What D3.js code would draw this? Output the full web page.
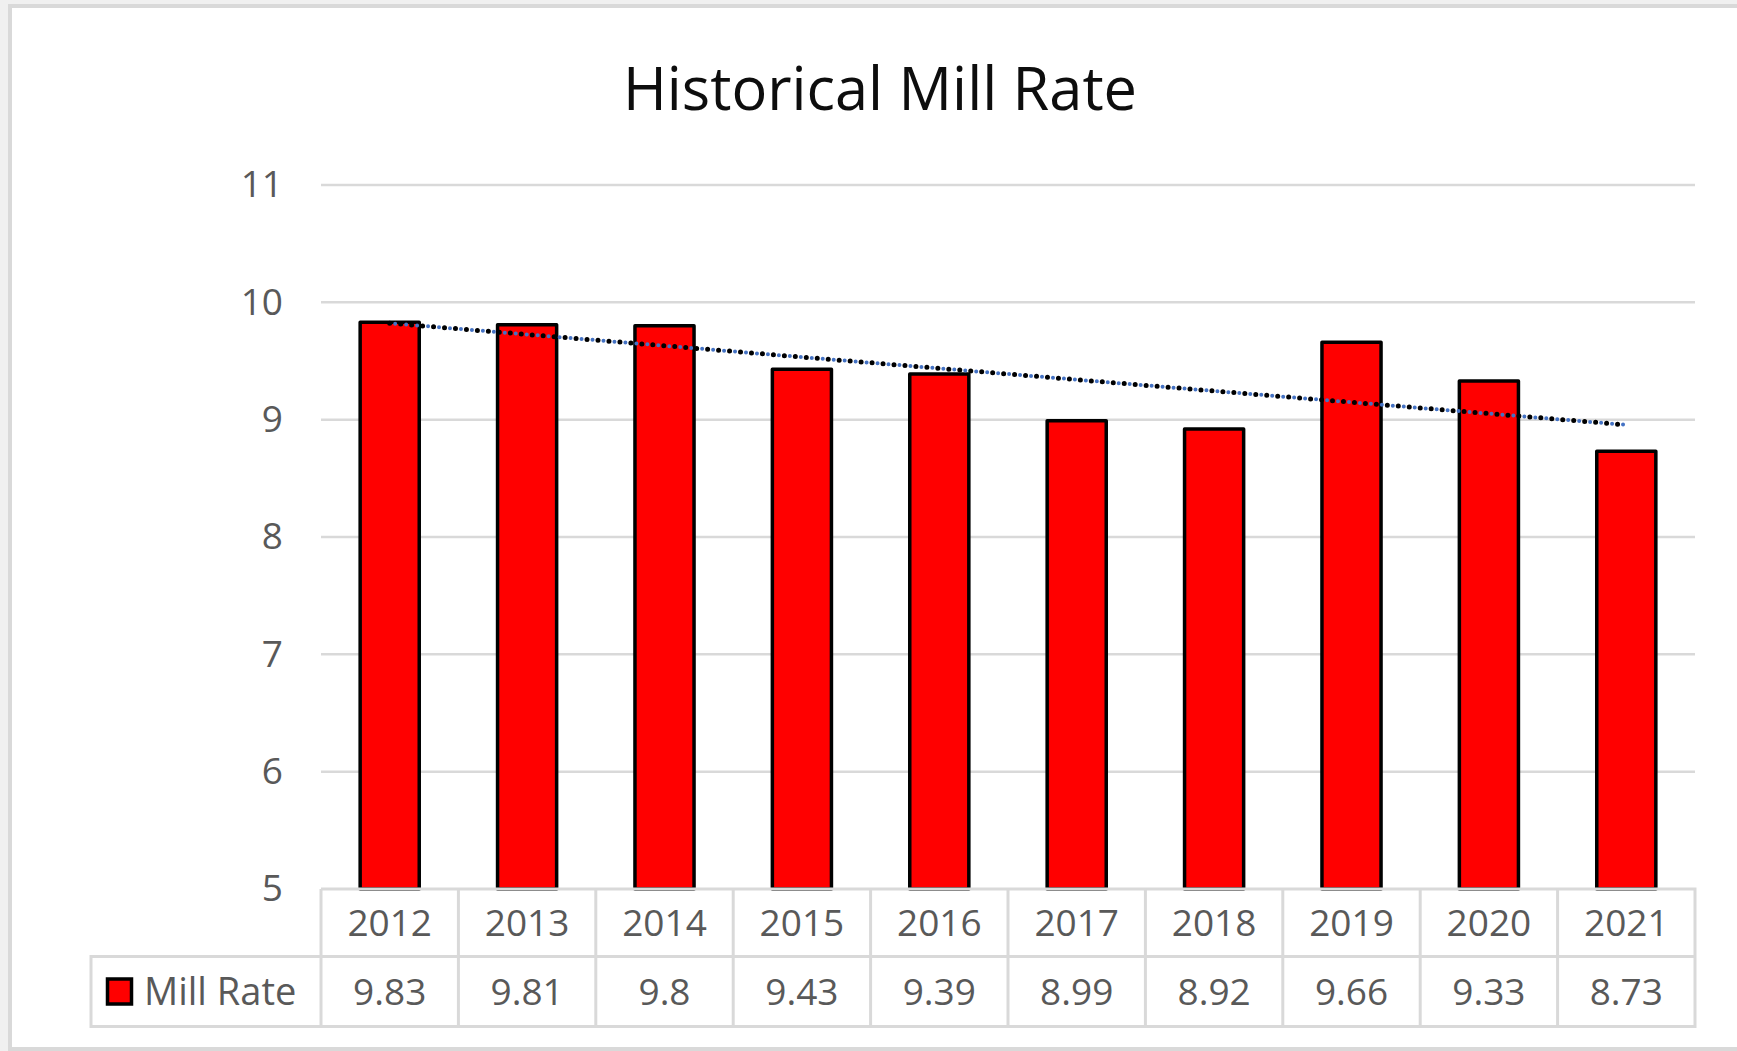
<!DOCTYPE html>
<html>
<head>
<meta charset="utf-8">
<script src="https://cdn.jsdelivr.net/npm/d3@7"></script>
<style>
    html, body { margin: 0; padding: 0; background: #f0f0f0; overflow: hidden; }
    svg { display: block; }
    text { font-family: "Open Sans", "Noto Sans", sans-serif; }
</style>
</head>
<body>
<div id="chart"></div>
<script>
const years = ['2012', '2013', '2014', '2015', '2016', '2017', '2018', '2019', '2020', '2021'];
const millRate = [9.83, 9.81, 9.8, 9.43, 9.39, 8.99, 8.92, 9.66, 9.33, 8.73];
const yTicks = [5, 6, 7, 8, 9, 10, 11];
const rateLabels = ['9.83', '9.81', '9.8', '9.43', '9.39', '8.99', '8.92', '9.66', '9.33', '8.73'];
const seriesName = 'Mill Rate';
const chartTitle = 'Historical Mill Rate';

const width = 1737;
const height = 1051;
const margin = { top: 185, right: 42, bottom: 162, left: 321 };
const tableLeft = 91;
const rowH = [67.5, 70];

const svg = d3.select('#chart')
    .append('svg')
    .attr('width', width)
    .attr('height', height);

// Chart frame
svg.append('rect')
    .attr('x', 10)
    .attr('y', 6)
    .attr('width', width + 20)
    .attr('height', height - 8)
    .attr('fill', '#ffffff')
    .attr('stroke', '#d9d9d9')
    .attr('stroke-width', 4);

const plotW = width - margin.left - margin.right;
const plotBottom = height - margin.bottom;

const x = d3.scaleBand()
    .domain(years)
    .range([margin.left, margin.left + plotW])
    .paddingInner(0.57)
    .paddingOuter(0.285);

const y = d3.scaleLinear()
    .domain([d3.min(yTicks), d3.max(yTicks)])
    .range([plotBottom, margin.top]);

const step = x.step();
const colLeft = d => x(d) - x.paddingOuter() * step;
const colCenter = d => x(d) + x.bandwidth() / 2;

// Title
svg.append('text')
    .attr('x', 880)
    .attr('y', 110)
    .attr('text-anchor', 'middle')
    .style('font-size', '59.5px')
    .style('fill', '#0d0d0d')
    .text(chartTitle);

// Gridlines
svg.append('g')
    .selectAll('line')
    .data(yTicks.filter(t => t > d3.min(yTicks)))
    .enter()
    .append('line')
    .attr('x1', margin.left)
    .attr('x2', margin.left + plotW)
    .attr('y1', d => y(d))
    .attr('y2', d => y(d))
    .attr('stroke', '#d9d9d9')
    .attr('stroke-width', 2.5);

// Y axis labels
const yAxis = d3.axisLeft(y)
    .tickValues(yTicks)
    .tickSize(0)
    .tickPadding(0)
    .tickFormat(d3.format('d'));

const yAxisG = svg.append('g')
    .attr('transform', `translate(${283},0)`)
    .call(yAxis);
yAxisG.select('.domain').remove();
yAxisG.selectAll('text')
    .style('font-size', '37px')
    .style('fill', '#595959')
    .style('font-family', '"Open Sans", sans-serif');

// Bars
svg.append('g')
    .selectAll('rect')
    .data(years)
    .enter()
    .append('rect')
    .attr('x', d => x(d))
    .attr('y', (d, i) => y(millRate[i]))
    .attr('width', x.bandwidth())
    .attr('height', (d, i) => y(d3.min(yTicks)) - y(millRate[i]))
    .attr('fill', '#ff0000')
    .attr('stroke', '#000000')
    .attr('stroke-width', 3.5)
    .attr('stroke-linejoin', 'round');

// Linear trendline
const n = millRate.length;
const xs = d3.range(1, n + 1);
const mx = d3.mean(xs);
const my = d3.mean(millRate);
const slope = d3.sum(xs.map((v, i) => (v - mx) * (millRate[i] - my))) / d3.sum(xs.map(v => (v - mx) ** 2));
const intercept = my - slope * mx;
const trend = [years[0], years[n - 1]].map(yr => ({
    yr,
    value: intercept + slope * (years.indexOf(yr) + 1)
}));

const trendLine = d3.line()
    .x(d => colCenter(d.yr))
    .y(d => y(d.value));

svg.append('path')
    .datum(trend)
    .attr('d', trendLine)
    .attr('fill', 'none')
    .attr('stroke', '#4472c4')
    .attr('stroke-width', 4)
    .attr('stroke-linecap', 'round')
    .attr('stroke-dasharray', '0 11')
    .attr('stroke-dashoffset', 5.5);

svg.append('path')
    .datum(trend)
    .attr('d', trendLine)
    .attr('fill', 'none')
    .attr('stroke', '#000000')
    .attr('stroke-width', 5)
    .attr('stroke-linecap', 'round')
    .attr('stroke-dasharray', '0 11');

// Data table
const table = svg.append('g');
const row1Top = plotBottom;
const row2Top = row1Top + rowH[0];
const tableBottom = row2Top + rowH[1];
const tableRight = margin.left + plotW;

const gridStyle = sel => sel
    .attr('stroke', '#d9d9d9')
    .attr('stroke-width', 3)
    .attr('fill', 'none');

table.append('path')
    .attr('d', `M${margin.left},${row1Top}H${tableRight}V${tableBottom}H${tableLeft}V${row2Top}H${tableRight}`)
    .call(gridStyle);

table.selectAll('.col-line')
    .data(years)
    .enter()
    .append('line')
    .attr('class', 'col-line')
    .attr('x1', d => colLeft(d))
    .attr('x2', d => colLeft(d))
    .attr('y1', row1Top)
    .attr('y2', tableBottom)
    .call(gridStyle);

table.selectAll('.year-label')
    .data(years)
    .enter()
    .append('text')
    .attr('class', 'year-label')
    .attr('x', d => colCenter(d))
    .attr('y', row1Top + rowH[0] / 2)
    .attr('dy', '0.36em')
    .attr('text-anchor', 'middle')
    .style('font-size', '37px')
    .style('fill', '#595959')
    .text(d => d);

table.selectAll('.value-label')
    .data(years)
    .enter()
    .append('text')
    .attr('class', 'value-label')
    .attr('x', d => colCenter(d))
    .attr('y', row2Top + rowH[1] / 2)
    .attr('dy', '0.36em')
    .attr('text-anchor', 'middle')
    .style('font-size', '37px')
    .style('fill', '#595959')
    .text((d, i) => rateLabels[i]);

// Legend key + series name
table.append('rect')
    .attr('x', 107.5)
    .attr('y', row2Top + rowH[1] / 2 - 12.5)
    .attr('width', 24)
    .attr('height', 25)
    .attr('fill', '#ff0000')
    .attr('stroke', '#000000')
    .attr('stroke-width', 3.5);

table.append('text')
    .attr('x', 144)
    .attr('y', row2Top + rowH[1] / 2)
    .attr('dy', '0.36em')
    .style('font-size', '38px')
    .style('fill', '#595959')
    .text(seriesName);
</script>
</body>
</html>
